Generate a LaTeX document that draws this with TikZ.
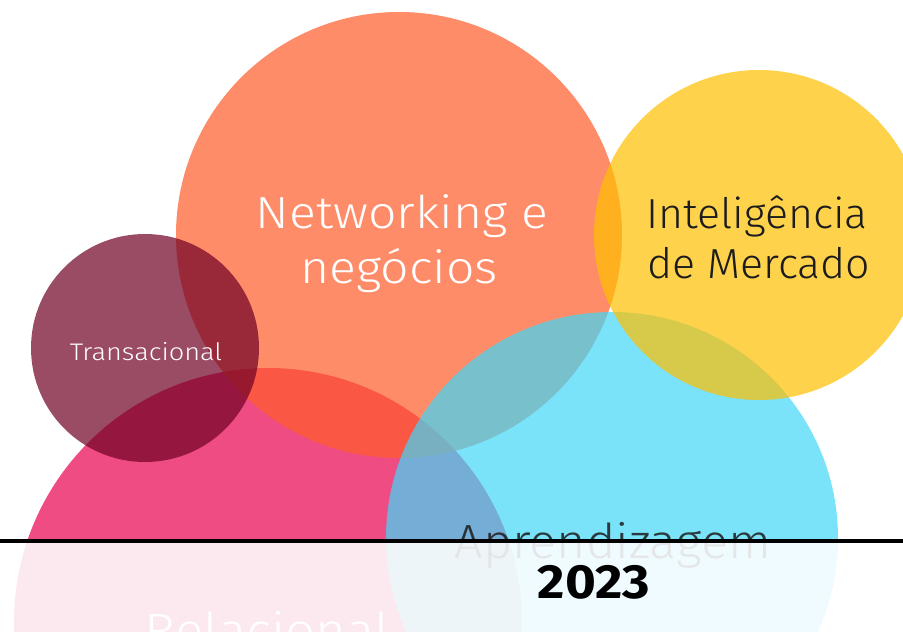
\documentclass[tikz,border=0pt]{standalone}
\usepackage{fontspec}
\setmainfont{Fira Sans}[UprightFont=* Light, BoldFont=* Bold]
\definecolor{cpink}{RGB}{231,0,79}
\definecolor{corange}{RGB}{255,91,41}
\definecolor{cblue}{RGB}{65,215,248}
\definecolor{cyellow}{RGB}{255,191,0}
\definecolor{ctrans}{RGB}{111,0,36}
\definecolor{darktxt}{RGB}{28,28,28}
\begin{document}
\begin{tikzpicture}[x=1pt,y=-1pt,
  bubble/.style={circle, draw=none, fill opacity=0.7, inner sep=0pt, minimum size=#1},
  lbl/.style={anchor=base, inner sep=0pt, font=\fontsize{#1}{#1}\selectfont}]
\useasboundingbox (0,0) rectangle (903,632);
\clip (0,0) rectangle (903,632);
\node[bubble=508pt, fill=cpink] (relb) at (268,622) {};
\node[bubble=446pt, fill=corange] (netb) at (399,235) {};
\node[bubble=452pt, fill=cblue] (aprb) at (612,538) {};
\node[bubble=330pt, fill=cyellow] (intb) at (759,235) {};
\node[bubble=228pt, fill=ctrans] (trab) at (145,348) {};
% labels
\node[lbl=45, text=white] (net1) at (402,228) {\addfontfeature{FakeStretch=1.11}Networking e};
\node[lbl=45, text=white] (net2) at (399,283) {\addfontfeature{FakeStretch=1.11}negócios};
\node[lbl=42, text=darktxt] (int1) at (757,228) {\addfontfeature{FakeStretch=1.02}Inteligência};
\node[lbl=42, text=darktxt] (int2) at (759,278) {\addfontfeature{FakeStretch=1.02}de Mercado};
\node[lbl=24, text=white] (tra) at (146,360) {\addfontfeature{FakeStretch=1.13}Transacional};
\node[lbl=48, text=darktxt, text opacity=0.85] (apr) at (613,558) {\addfontfeature{FakeStretch=1.05}Aprendizagem};
\node[lbl=48, text=white] (rel) at (267,647) {\addfontfeature{FakeStretch=1.1}Relacional};
% fade overlay below the line
\fill[white, opacity=0.88] (0,541) rectangle (903,632);
\coordinate (lineL) at (0,541);
\coordinate (lineR) at (903,541);
\draw[line width=4pt, black] (lineL) -- (lineR);
\node[lbl=48, font=\fontsize{48}{48}\selectfont\bfseries, text=black] (yr) at (594,598) {\addfontfeature{FakeStretch=1.1}2023};
\end{tikzpicture}
\end{document}
